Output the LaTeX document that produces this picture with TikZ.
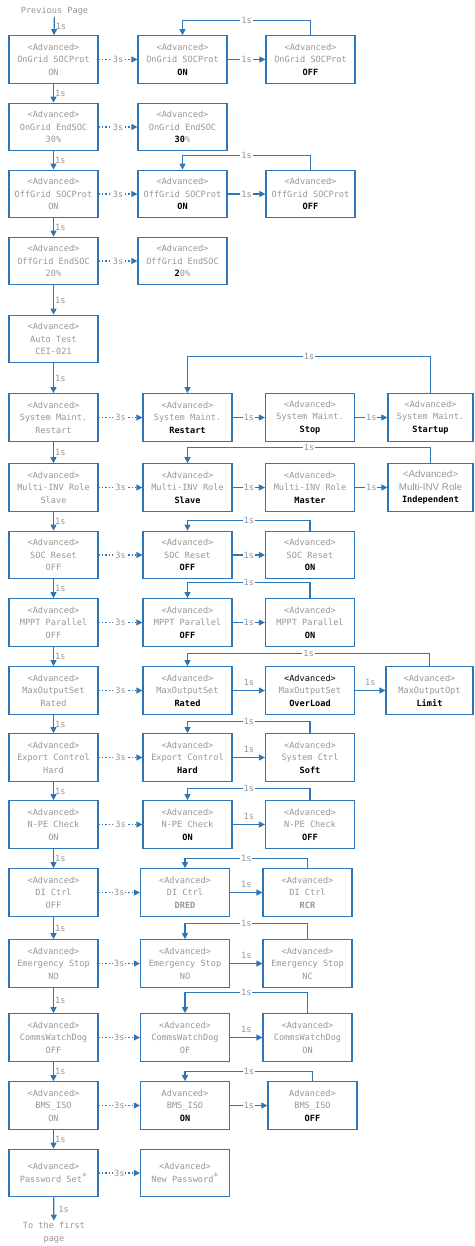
\documentclass[tikz,border=0pt]{standalone}
\usepackage{fontspec}
\setmainfont{DejaVu Sans Mono}
\newfontfamily\propfont{Liberation Sans}
\usepackage{tikz}
\usetikzlibrary{arrows.meta}

\definecolor{lineblue}{RGB}{46,117,182}
\definecolor{txtgray}{RGB}{150,150,150}

\begin{document}
\begin{tikzpicture}[
    x=1pt, y=-1pt,
    box/.style={rectangle, draw=lineblue, line width=1.2pt, minimum width=89pt, minimum height=47.5pt,
        inner sep=0pt, align=center, text=txtgray, font=\fontsize{8.6}{12.5}\selectfont},
    arrow/.style={draw=lineblue, line width=1.2pt, -{Triangle[length=6pt,width=6pt]}},
    dotarrow/.style={arrow, dash pattern=on 1.3pt off 2pt},
    lbl/.style={text=txtgray, inner sep=1pt, font=\fontsize{8.6}{10}\selectfont},
    onl/.style={lbl, fill=white}
]
    \useasboundingbox (0,0) rectangle (474,1246);

    \node[lbl] (prev) at (54.5,11.5) {Previous Page};

    % first column
    \node[box] (ogsoc) at (53.5,59.5) {<Advanced>\\OnGrid SOCProt\\ON};
    \node[box] (ogend) at (53.5,127) {<Advanced>\\OnGrid EndSOC\\30\%};
    \node[box] (offsoc) at (53.5,194) {<Advanced>\\OffGrid SOCProt\\ON};
    \node[box] (offend) at (53.5,261) {<Advanced>\\OffGrid EndSOC\\20\%};
    \node[box] (autotest) at (53.5,339) {<Advanced>\\Auto Test\\CEI-021};
    \node[box] (maint) at (53.5,417.5) {<Advanced>\\System Maint.\\Restart};
    \node[box] (role) at (53.5,487.5) {<Advanced>\\Multi-INV Role\\Slave};
    \node[box] (socrst) at (53.5,555) {<Advanced>\\SOC Reset\\OFF};
    \node[box] (mppt) at (53.5,622.5) {<Advanced>\\MPPT Parallel\\OFF};
    \node[box] (maxout) at (53.5,690.5) {<Advanced>\\MaxOutputSet\\Rated};
    \node[box] (export) at (53.5,757.5) {<Advanced>\\Export Control\\Hard};
    \node[box] (npe) at (53.5,824.5) {<Advanced>\\N-PE Check\\ON};
    \node[box] (dictrl) at (53.5,892.5) {<Advanced>\\DI Ctrl\\OFF};
    \node[box] (estop) at (53.5,963.5) {<Advanced>\\Emergency Stop\\NO};
    \node[box] (watchdog) at (53.5,1037.5) {<Advanced>\\CommsWatchDog\\OFF};
    \node[box] (bmsiso) at (53.5,1105.5) {<Advanced>\\BMS\_ISO\\ON};
    \node[box] (pwset) at (53.5,1173) {<Advanced>\\Password Set\raisebox{2.5pt}{*}};

    \node[lbl, align=center, font=\fontsize{8.6}{13}\selectfont] (tofirst) at (54,1232.5) {To the first\\page};

    % setting screens
    \node[box] (ogsocon) at (182.5,59.5) {<Advanced>\\OnGrid SOCProt\\{\color{black}\bfseries ON}};
    \node[box] (ogsocoff) at (310.5,59.5) {<Advanced>\\OnGrid SOCProt\\{\color{black}\bfseries OFF}};
    \node[box] (ogend30) at (182.5,127) {<Advanced>\\OnGrid EndSOC\\{\color{black}\bfseries 30}\%};
    \node[box] (offsocon) at (182.5,194) {<Advanced>\\OffGrid SOCProt\\{\color{black}\bfseries ON}};
    \node[box] (offsocoff) at (310.5,194) {<Advanced>\\OffGrid SOCProt\\{\color{black}\bfseries OFF}};
    \node[box] (offend20) at (182.5,261) {<Advanced>\\OffGrid EndSOC\\{\color{black}\bfseries 2}0\%};

    \node[box] (maintrst) at (187.5,417.5) {<Advanced>\\System Maint.\\{\color{black}\bfseries Restart}};
    \node[box] (maintstop) at (310,417.5) {<Advanced>\\System Maint.\\{\color{black}\bfseries Stop}};
    \node[box, minimum width=85pt] (maintstart) at (430.5,417.5) {<Advanced>\\System Maint.\\{\color{black}\bfseries Startup}};

    \node[box] (roleslave) at (187.5,487.5) {<Advanced>\\Multi-INV Role\\{\color{black}\bfseries Slave}};
    \node[box] (rolemaster) at (310,487.5) {<Advanced>\\Multi-INV Role\\{\color{black}\bfseries Master}};
    \node[box, minimum width=85pt] (roleindep) at (430.5,487.5) {{\propfont\fontsize{9.8}{12.5}\selectfont <Advanced>}\\{\propfont\fontsize{9.8}{12.5}\selectfont Multi-INV Role}\\{\color{black}\bfseries Independent}};

    \node[box] (socrstoff) at (187.5,555) {<Advanced>\\SOC Reset\\{\color{black}\bfseries OFF}};
    \node[box] (socrston) at (310,555) {<Advanced>\\SOC Reset\\{\color{black}\bfseries ON}};

    \node[box] (mpptoff) at (187.5,622.5) {<Advanced>\\MPPT Parallel\\{\color{black}\bfseries OFF}};
    \node[box] (mppton) at (310,622.5) {<Advanced>\\MPPT Parallel\\{\color{black}\bfseries ON}};

    \node[box] (maxrated) at (187.5,690.5) {<Advanced>\\MaxOutputSet\\{\color{black}\bfseries Rated}};
    \node[box] (maxover) at (310,690.5) {{\color{black}<Advanced>}\\MaxOutputSet\\{\color{black}\bfseries OverLoad}};
    \node[box, minimum width=87pt] (maxlimit) at (429.5,690.5) {<Advanced>\\MaxOutputOpt\\{\color{black}\bfseries Limit}};

    \node[box] (exphard) at (187.5,757.5) {<Advanced>\\Export Control\\{\color{black}\bfseries Hard}};
    \node[box] (expsoft) at (310,757.5) {<Advanced>\\System Ctrl\\{\color{black}\bfseries Soft}};

    \node[box] (npeon) at (187.5,824.5) {<Advanced>\\N-PE Check\\{\color{black}\bfseries ON}};
    \node[box] (npeoff) at (310,824.5) {<Advanced>\\N-PE Check\\{\color{black}\bfseries OFF}};

    \node[box] (didred) at (185,892.5) {<Advanced>\\DI Ctrl\\{\bfseries DRED}};
    \node[box] (dircr) at (307.5,892.5) {<Advanced>\\DI Ctrl\\{\bfseries RCR}};

    \node[box] (estopno) at (185,963.5) {<Advanced>\\Emergency Stop\\NO};
    \node[box] (estopnc) at (307.5,963.5) {<Advanced>\\Emergency Stop\\NC};

    \node[box] (wdof) at (185,1037.5) {<Advanced>\\CommsWatchDog\\OF};
    \node[box] (wdon) at (307.5,1037.5) {<Advanced>\\CommsWatchDog\\ON};

    \node[box] (bmson) at (185,1105.5) {Advanced>\\BMS\_ISO\\{\color{black}\bfseries ON}};
    \node[box] (bmsoff) at (312.5,1105.5) {Advanced>\\BMS\_ISO\\{\color{black}\bfseries OFF}};

    \node[box] (pwnew) at (185,1173) {<Advanced>\\New Password\raisebox{2.5pt}{*}};

    % menu flow
    \draw[arrow] (prev) -- node[lbl, right]{1s} (ogsoc);
    \draw[arrow] (ogsoc) -- node[lbl, right]{1s} (ogend);
    \draw[arrow] (ogend) -- node[lbl, right]{1s} (offsoc);
    \draw[arrow] (offsoc) -- node[lbl, right]{1s} (offend);
    \draw[arrow] (offend) -- node[lbl, right]{1s} (autotest);
    \draw[arrow] (autotest) -- node[lbl, right]{1s} (maint);
    \draw[arrow] (maint) -- node[lbl, right]{1s} (role);
    \draw[arrow] (role) -- node[lbl, right]{1s} (socrst);
    \draw[arrow] (socrst) -- node[lbl, right]{1s} (mppt);
    \draw[arrow] (mppt) -- node[lbl, right]{1s} (maxout);
    \draw[arrow] (maxout) -- node[lbl, right]{1s} (export);
    \draw[arrow] (export) -- node[lbl, right]{1s} (npe);
    \draw[arrow] (npe) -- node[lbl, right]{1s} (dictrl);
    \draw[arrow] (dictrl) -- node[lbl, right]{1s} (estop);
    \draw[arrow] (estop) -- node[lbl, right]{1s} (watchdog);
    \draw[arrow] (watchdog) -- node[lbl, right]{1s} (bmsiso);
    \draw[arrow] (bmsiso) -- node[lbl, right]{1s} (pwset);
    \draw[arrow] (pwset) -- node[lbl, right, xshift=3pt]{1s} (tofirst);

    % hold 3s to enter
    \draw[dotarrow] (ogsoc) -- node[onl]{3s} (ogsocon);
    \draw[dotarrow] (ogend) -- node[onl]{3s} (ogend30);
    \draw[dotarrow] (offsoc) -- node[onl]{3s} (offsocon);
    \draw[dotarrow] (offend) -- node[onl]{3s} (offend20);
    \draw[dotarrow] (maint) -- node[onl]{3s} (maintrst);
    \draw[dotarrow] (role) -- node[onl]{3s} (roleslave);
    \draw[dotarrow] (socrst) -- node[onl]{3s} (socrstoff);
    \draw[dotarrow] (mppt) -- node[onl]{3s} (mpptoff);
    \draw[dotarrow] (maxout) -- node[onl]{3s} (maxrated);
    \draw[dotarrow] (export) -- node[onl]{3s} (exphard);
    \draw[dotarrow] (npe) -- node[onl]{3s} (npeon);
    \draw[dotarrow] (dictrl) -- node[onl]{3s} (didred);
    \draw[dotarrow] (estop) -- node[onl]{3s} (estopno);
    \draw[dotarrow] (watchdog) -- node[onl]{3s} (wdof);
    \draw[dotarrow] (bmsiso) -- node[onl]{3s} (bmson);
    \draw[dotarrow] (pwset) -- node[onl]{3s} (pwnew);

    % 1s to next option
    \draw[arrow] (ogsocon) -- node[onl]{1s} (ogsocoff);
    \draw[arrow] (offsocon) -- node[onl]{1s} (offsocoff);
    \draw[arrow] (maintrst) -- node[onl]{1s} (maintstop);
    \draw[arrow] (maintstop) -- node[onl]{1s} (maintstart);
    \draw[arrow] (roleslave) -- node[onl]{1s} (rolemaster);
    \draw[arrow] (rolemaster) -- node[onl]{1s} (roleindep);
    \draw[arrow] (socrstoff) -- node[onl]{1s} (socrston);
    \draw[arrow] (mpptoff) -- node[onl]{1s} (mppton);
    \draw[arrow] (maxrated) -- node[lbl, above=3pt]{1s} (maxover);
    \draw[arrow] (maxover) -- node[lbl, above=3pt]{1s} (maxlimit);
    \draw[arrow] (exphard) -- node[lbl, above=3pt]{1s} (expsoft);
    \draw[arrow] (npeon) -- node[lbl, above=3pt]{1s} (npeoff);
    \draw[arrow] (didred) -- node[lbl, above=3pt]{1s} (dircr);
    \draw[arrow] (estopno) -- node[lbl, above=3pt]{1s} (estopnc);
    \draw[arrow] (wdof) -- node[lbl, above=3pt]{1s} (wdon);
    \draw[arrow] (bmson) -- node[onl]{1s} (bmsoff);

    % back to first option
    \draw[arrow] (ogsocoff.north) -- ++(0,-15) -| node[onl, pos=0.25]{1s} (ogsocon.north);
    \draw[arrow] (offsocoff.north) -- ++(0,-14) -| node[onl, pos=0.25]{1s} (offsocon.north);
    \draw[arrow] (maintstart.north) -- ++(0,-37) -| node[onl, pos=0.25]{1s} (maintrst.north);
    \draw[arrow] (roleindep.north) -- ++(0,-16) -| node[onl, pos=0.25]{1s} (roleslave.north);
    \draw[arrow] (socrston.north) -- ++(0,-10) -| node[onl, pos=0.25]{1s} (socrstoff.north);
    \draw[arrow] (mppton.north) -- ++(0,-16) -| node[onl, pos=0.25]{1s} (mpptoff.north);
    \draw[arrow] (maxlimit.north) -- ++(0,-13) -| node[onl, pos=0.25]{1s} (maxrated.north);
    \draw[arrow] (expsoft.north) -- ++(0,-12) -| node[onl, pos=0.25]{1s} (exphard.north);
    \draw[arrow] (npeoff.north) -- ++(0,-12) -| node[onl, pos=0.25]{1s} (npeon.north);
    \draw[arrow] (dircr.north) -- ++(0,-10) -| node[onl, pos=0.25]{1s} (didred.north);
    \draw[arrow] (estopnc.north) -- ++(0,-16) -| node[onl, pos=0.25]{1s} (estopno.north);
    \draw[arrow] (wdon.north) -- ++(0,-21) -| node[onl, pos=0.25]{1s} (wdof.north);
    \draw[arrow] (bmsoff.north) -- ++(0,-10) -| node[onl, pos=0.25]{1s} (bmson.north);
\end{tikzpicture}
\end{document}
